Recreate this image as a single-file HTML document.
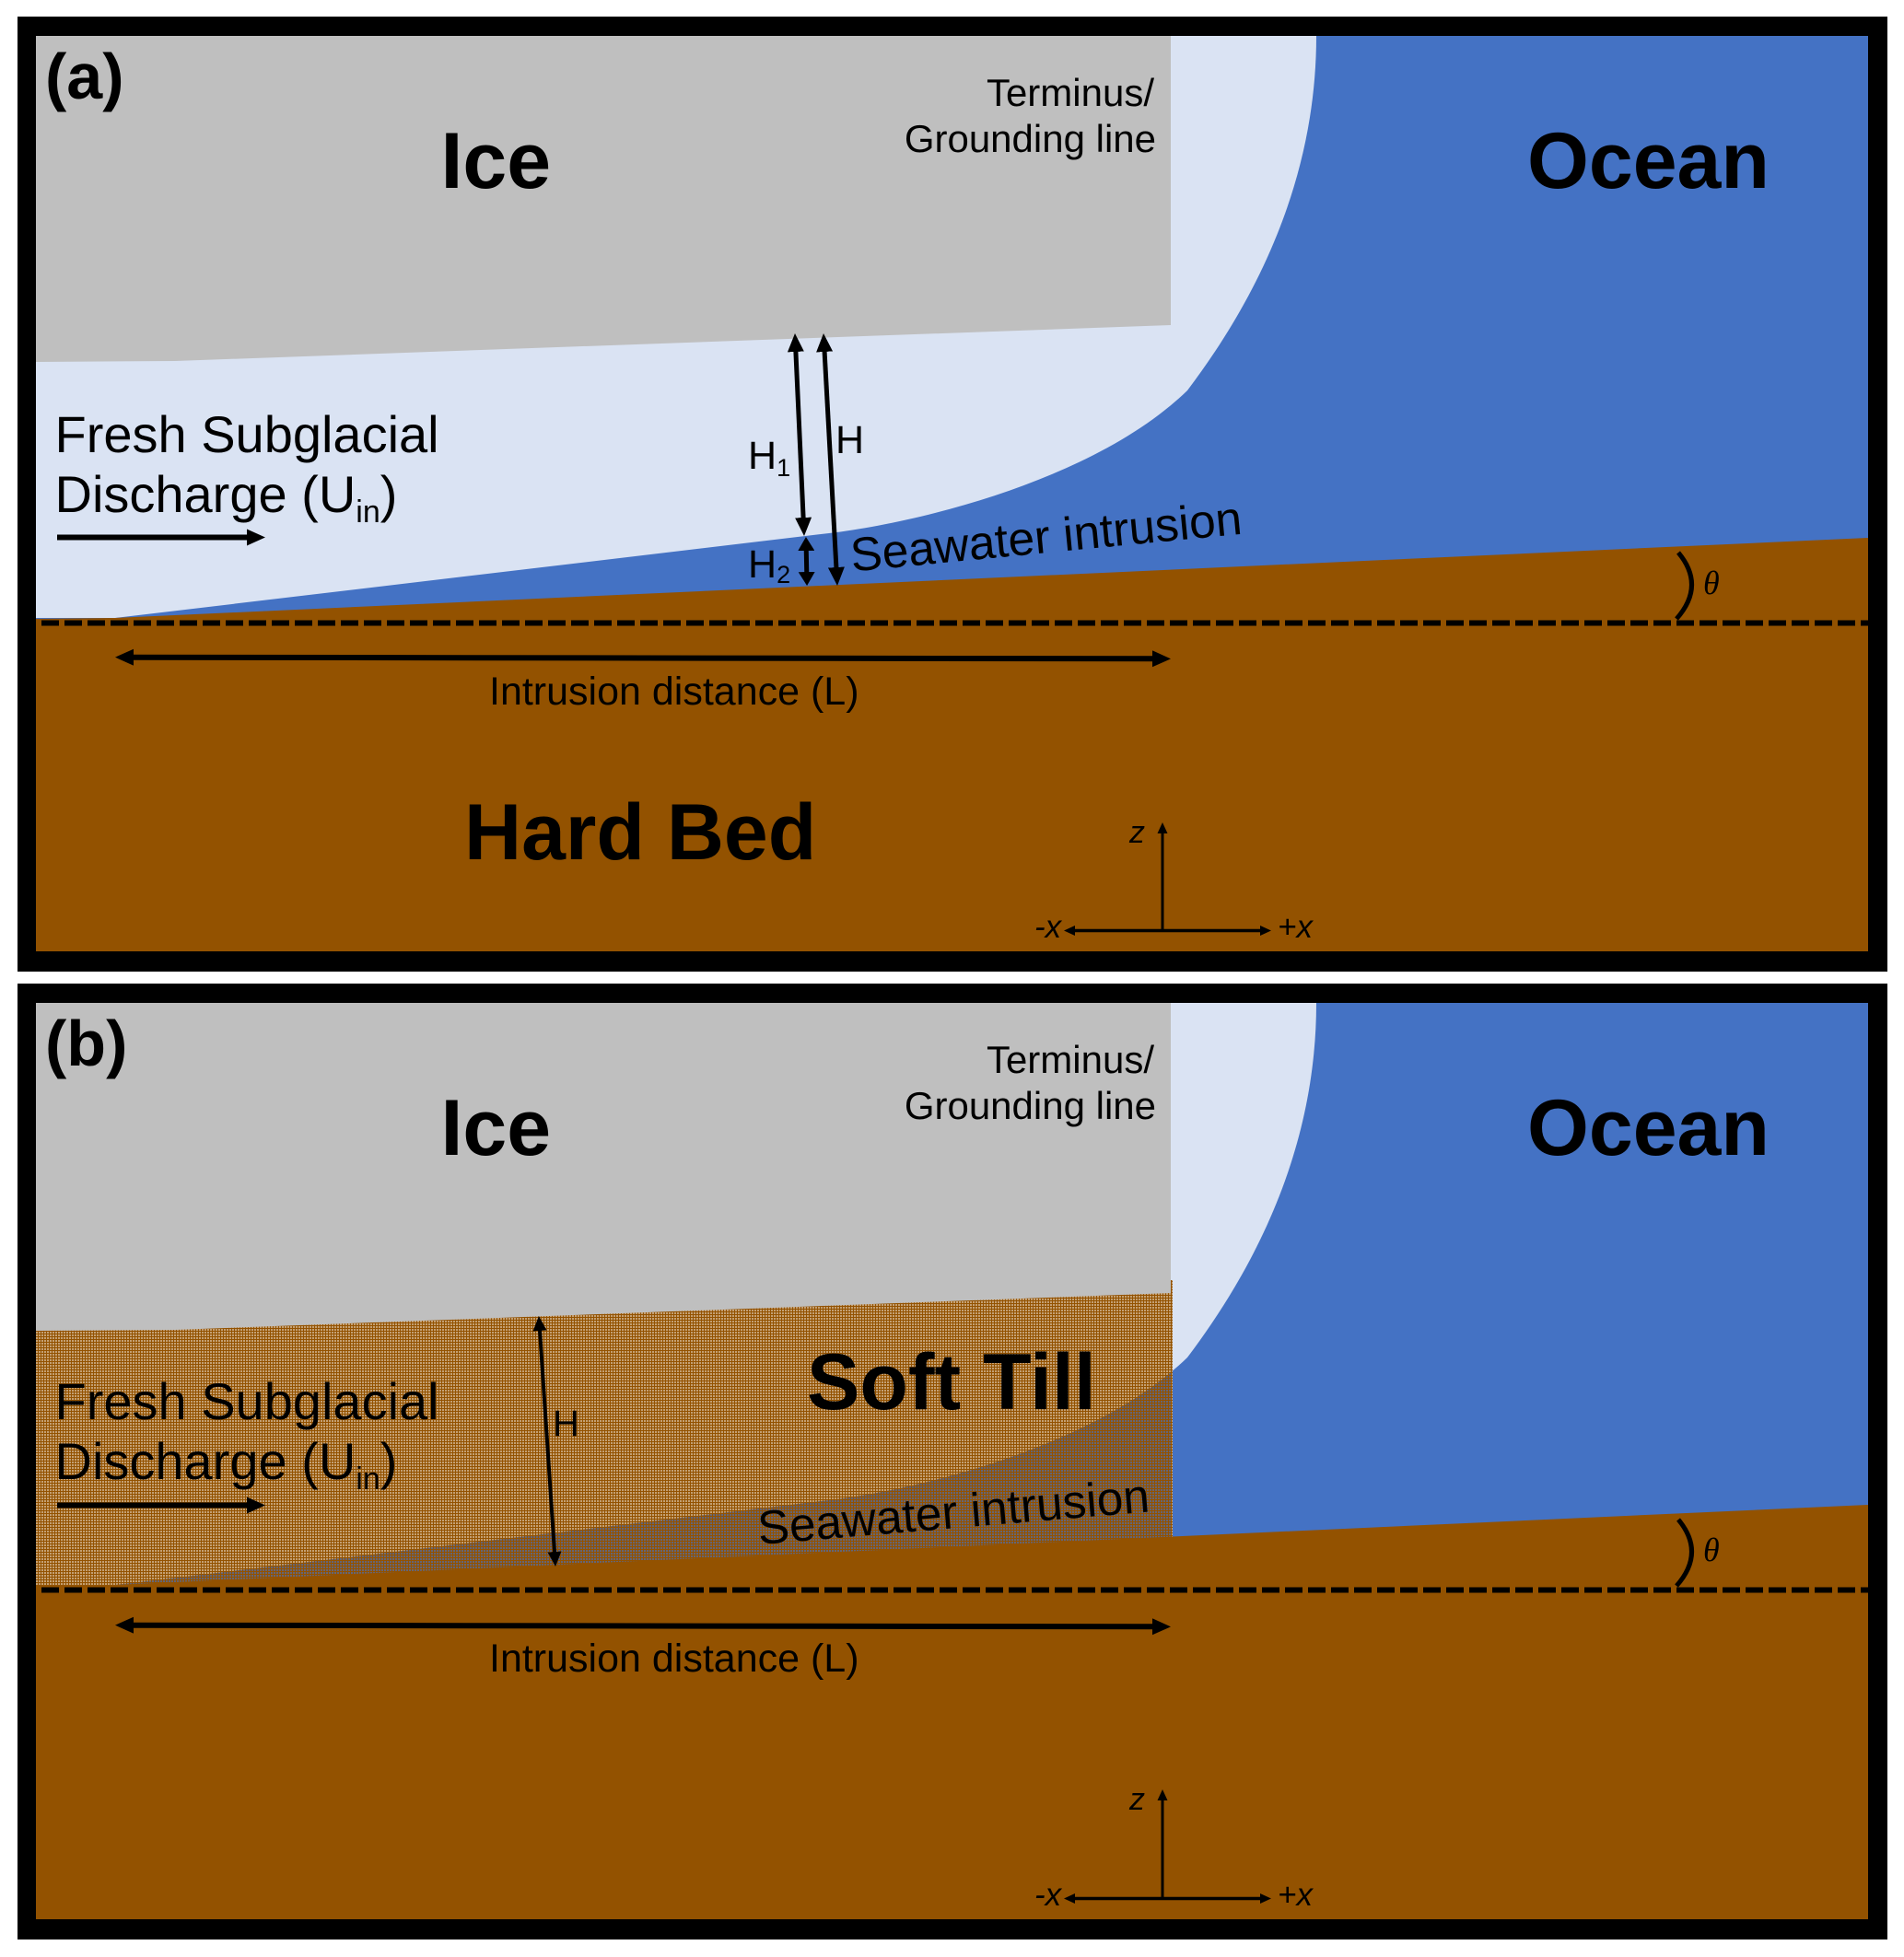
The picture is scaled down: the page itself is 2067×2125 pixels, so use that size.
<!DOCTYPE html>
<html>
<head>
<meta charset="utf-8">
<style>
  html,body{margin:0;padding:0;background:#fff;}
  svg{display:block;}
  .t{font-family:"Liberation Sans",Arial,sans-serif;fill:#000;}
  .b{font-weight:bold;}
  .it{font-style:italic;}
</style>
</head>
<body>
<svg width="2067" height="2125" viewBox="0 0 2067 2125" xmlns="http://www.w3.org/2000/svg">
  <defs>
    <marker id="m1" viewBox="0 0 20 18" refX="10" refY="9" markerWidth="20" markerHeight="18" markerUnits="userSpaceOnUse" orient="auto-start-reverse">
      <path d="M0,0 L20,9 L0,18 Z" fill="#000"/>
    </marker>
    <marker id="m2" viewBox="0 0 15 18" refX="7.5" refY="9" markerWidth="15" markerHeight="18" markerUnits="userSpaceOnUse" orient="auto-start-reverse">
      <path d="M0,0 L15,9 L0,18 Z" fill="#000"/>
    </marker>
    <marker id="m3" viewBox="0 0 12 11" refX="6" refY="5.5" markerWidth="12" markerHeight="11" markerUnits="userSpaceOnUse" orient="auto-start-reverse">
      <path d="M0,0 L12,5.5 L0,11 Z" fill="#000"/>
    </marker>
    <marker id="m4" viewBox="0 0 16 15" refX="8" refY="7.5" markerWidth="16" markerHeight="15" markerUnits="userSpaceOnUse" orient="auto-start-reverse">
      <path d="M0,0 L16,7.5 L0,15 Z" fill="#000"/>
    </marker>
    <pattern id="tw" x="0" y="0" width="3" height="3" patternUnits="userSpaceOnUse">
      <rect width="3" height="3" fill="#935200"/>
      <rect x="0" y="0" width="2" height="2" fill="#ffffff" fill-opacity="0.45"/>
    </pattern>
    <pattern id="tb" x="0" y="0" width="3" height="3" patternUnits="userSpaceOnUse">
      <rect width="3" height="3" fill="#935200"/>
      <rect x="0" y="0" width="2" height="2" fill="#4472c4" fill-opacity="0.6"/>
    </pattern>
    <clipPath id="tillclip">
      <rect x="39" y="0" width="1233" height="1100"/>
    </clipPath>
  </defs>

  <rect x="0" y="0" width="2067" height="2125" fill="#ffffff"/>

  <!-- ================= PANEL A ================= -->
  <g>
    <rect x="19" y="18" width="2030" height="1037" fill="#000"/>
    <rect x="39" y="39" width="1989" height="994" fill="#4472c4"/>
    <path d="M39,39 L1429,39 C1429,200 1360,330 1289,424 C1190,520 1000,567 900,579 L125,671 L39,671 Z" fill="#dae3f3"/>
    <path d="M39,39 L1271,39 L1271,353 L190,392 L39,393 Z" fill="#bfbfbf"/>
    <path d="M39,672 L125,671 L2028,584 L2028,1033 L39,1033 Z" fill="#935200"/>
    <line x1="39" y1="676.5" x2="2028" y2="676.5" stroke="#000" stroke-width="6" stroke-dasharray="19 6" stroke-dashoffset="-6"/>
    <path d="M1822,600 Q1852,636 1820,672" fill="none" stroke="#000" stroke-width="5"/>

    <!-- arrows -->
    <line x1="62" y1="583.5" x2="278" y2="583.5" stroke="#000" stroke-width="6" marker-end="url(#m1)"/>
    <line x1="863.45" y1="372" x2="872.55" y2="572" stroke="#000" stroke-width="5" marker-start="url(#m1)" marker-end="url(#m1)"/>
    <line x1="894.55" y1="372" x2="908.45" y2="626" stroke="#000" stroke-width="5" marker-start="url(#m1)" marker-end="url(#m1)"/>
    <line x1="875.1" y1="590.5" x2="875.9" y2="628.5" stroke="#000" stroke-width="5" marker-start="url(#m2)" marker-end="url(#m2)"/>
    <line x1="135" y1="713.7" x2="1261" y2="715.3" stroke="#000" stroke-width="6" marker-start="url(#m1)" marker-end="url(#m1)"/>

    <!-- axes -->
    <line x1="1262" y1="899" x2="1262" y2="1011.5" stroke="#000" stroke-width="3" marker-start="url(#m3)"/>
    <line x1="1161" y1="1010.5" x2="1374" y2="1010.5" stroke="#000" stroke-width="3.5" marker-start="url(#m3)" marker-end="url(#m3)"/>

    <!-- text -->
    <text class="t b" x="49" y="107" font-size="70">(a)</text>
    <text class="t b" x="478.5" y="204" font-size="86">Ice</text>
    <text class="t b" x="1658" y="204" font-size="86">Ocean</text>
    <text class="t" x="1253" y="115" font-size="42" text-anchor="end">Terminus/</text>
    <text class="t" x="1255" y="165" font-size="42" text-anchor="end">Grounding line</text>
    <text class="t" x="59.5" y="491" font-size="56">Fresh Subglacial</text>
    <text class="t" x="59.5" y="556" font-size="56">Discharge (U<tspan font-size="34" dy="11">in</tspan><tspan dy="-11">)</tspan></text>
    <text class="t" x="812" y="509" font-size="43">H<tspan font-size="27" dy="8">1</tspan></text>
    <text class="t" x="907" y="492" font-size="43">H</text>
    <text class="t" x="812" y="627" font-size="43">H<tspan font-size="27" dy="6">2</tspan></text>
    <text class="t" font-size="51.5" transform="translate(925,620.5) rotate(-5.5)">Seawater intrusion</text>
    <text class="t" x="531" y="765" font-size="43">Intrusion distance (L)</text>
    <text class="t b" x="504" y="933" font-size="86">Hard Bed</text>
    <text x="1849" y="645" font-size="36" font-family="'Liberation Serif',serif" font-style="italic" fill="#000">θ</text>
    <text class="t it" x="1226" y="915" font-size="34">z</text>
    <text class="t it" x="1123" y="1018" font-size="35">-x</text>
    <text class="t it" x="1387" y="1018" font-size="35">+x</text>
  </g>

  <!-- ================= PANEL B ================= -->
  <g transform="translate(0,1050)">
    <rect x="19" y="18" width="2030" height="1038" fill="#000"/>
    <rect x="39" y="39" width="1989" height="995" fill="#4472c4"/>
    <path d="M39,39 L1429,39 C1429,200 1360,330 1289,424 C1190,520 1000,567 900,579 L125,671 L39,671 Z" fill="#dae3f3"/>
    <rect x="39" y="340" width="1234" height="345" fill="url(#tw)"/>
    <path clip-path="url(#tillclip)" d="M125,671 L900,579 C1000,567 1190,520 1289,424 C1360,330 1429,200 1429,39 L2028,39 L2028,700 L125,700 Z" fill="url(#tb)"/>
    <path d="M39,39 L1271,39 L1271,354 L190,394 L39,395 Z" fill="#bfbfbf"/>
    <path d="M39,672 L125,671 L2028,584 L2028,1034 L39,1034 Z" fill="#935200"/>
    <line x1="39" y1="676.5" x2="2028" y2="676.5" stroke="#000" stroke-width="6" stroke-dasharray="19 6" stroke-dashoffset="-6"/>
    <path d="M1822,600 Q1852,636 1820,672" fill="none" stroke="#000" stroke-width="5"/>

    <!-- arrows -->
    <line x1="62" y1="584.5" x2="278" y2="584.5" stroke="#000" stroke-width="6" marker-end="url(#m1)"/>
    <line x1="585.5" y1="387" x2="602.5" y2="643" stroke="#000" stroke-width="4" marker-start="url(#m4)" marker-end="url(#m4)"/>
    <line x1="135" y1="714.7" x2="1261" y2="716.3" stroke="#000" stroke-width="6" marker-start="url(#m1)" marker-end="url(#m1)"/>

    <!-- axes -->
    <line x1="1262" y1="899" x2="1262" y2="1011.5" stroke="#000" stroke-width="3" marker-start="url(#m3)"/>
    <line x1="1161" y1="1011.5" x2="1374" y2="1011.5" stroke="#000" stroke-width="3.5" marker-start="url(#m3)" marker-end="url(#m3)"/>

    <!-- text -->
    <text class="t b" x="49" y="107" font-size="70">(b)</text>
    <text class="t b" x="478.5" y="204" font-size="86">Ice</text>
    <text class="t b" x="1658" y="204" font-size="86">Ocean</text>
    <text class="t" x="1253" y="115" font-size="42" text-anchor="end">Terminus/</text>
    <text class="t" x="1255" y="165" font-size="42" text-anchor="end">Grounding line</text>
    <text class="t" x="59.5" y="491" font-size="56">Fresh Subglacial</text>
    <text class="t" x="59.5" y="556" font-size="56">Discharge (U<tspan font-size="34" dy="11">in</tspan><tspan dy="-11">)</tspan></text>
    <text class="t" x="600" y="509" font-size="40">H</text>
    <text class="t b" x="876" y="480" font-size="86">Soft Till</text>
    <text class="t" font-size="51.5" transform="translate(824,627) rotate(-4.8)">Seawater intrusion</text>
    <text class="t" x="531" y="765" font-size="43">Intrusion distance (L)</text>
    <text x="1849" y="645" font-size="36" font-family="'Liberation Serif',serif" font-style="italic" fill="#000">θ</text>
    <text class="t it" x="1226" y="915" font-size="34">z</text>
    <text class="t it" x="1123" y="1019" font-size="35">-x</text>
    <text class="t it" x="1387" y="1019" font-size="35">+x</text>
  </g>
</svg>
</body>
</html>
